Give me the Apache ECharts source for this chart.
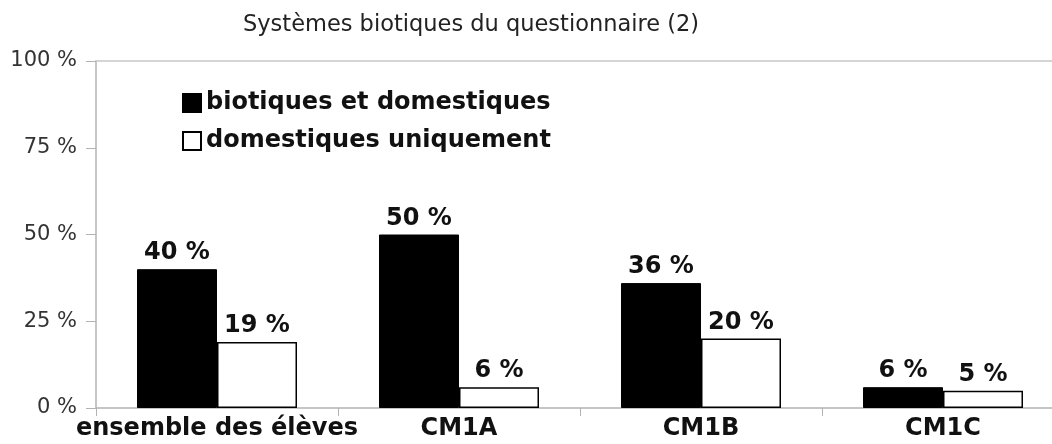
<!DOCTYPE html>
<html>
<head>
<meta charset="utf-8">
<script src="https://cdn.jsdelivr.net/npm/echarts@6/dist/echarts.min.js"></script>
<style>
  html, body { margin: 0; padding: 0; background: #fff; }
  #main { width: 1052px; height: 444px; }
</style>
</head>
<body>
<div id="main"></div>
<script>
// données du graphique
var categories = ['ensemble des élèves', 'CM1A', 'CM1B', 'CM1C']
var biotiquesDomestiques = [40, 50, 36, 6]
var domestiquesUniquement = [19, 6, 20, 5]
var yTicks = [0, 25, 50, 75, 100]

var myChart = echarts.init(document.getElementById('main'))

var boldFont = {
  fontFamily: 'DejaVu Sans',
  fontWeight: 'bold',
  fontSize: 24,
  color: '#111'
}

var option = {
  animation: false,
  title: {
    text: 'Systèmes biotiques du questionnaire (2)',
    left: 238,
    top: 9,
    textStyle: {
      fontFamily: 'DejaVu Sans',
      fontWeight: 'normal',
      fontSize: 22.5,
      color: '#222'
    }
  },
  legend: {
    orient: 'vertical',
    left: 182,
    top: 91,
    padding: 0,
    itemWidth: 18,
    itemHeight: 18,
    itemGap: 14,
    icon: 'rect',
    textStyle: boldFont,
    data: ['biotiques et domestiques', 'domestiques uniquement']
  },
  grid: {
    left: 96,
    width: 968,
    top: 61,
    bottom: 36,
    outerBoundsMode: 'none'
  },
  xAxis: [
    {
      type: 'category',
      data: categories,
      axisLine: { lineStyle: { color: '#b3b3b3', width: 1.5 } },
      axisTick: { show: true, length: 8, lineStyle: { color: '#b3b3b3' } },
      axisLabel: Object.assign({ margin: 9, interval: 0 }, boldFont)
    },
    {
      type: 'category',
      position: 'top',
      data: categories,
      axisLine: { lineStyle: { color: '#c8c8c8', width: 1.5 } },
      axisTick: { show: false },
      axisLabel: { show: false }
    }
  ],
  yAxis: {
    type: 'value',
    min: yTicks[0],
    max: yTicks[yTicks.length - 1],
    interval: 25,
    axisLine: { show: true, lineStyle: { color: '#b3b3b3', width: 1.5 } },
    axisTick: { show: true, length: 10, lineStyle: { color: '#b3b3b3' } },
    splitLine: { show: false },
    axisLabel: {
      margin: 19,
      formatter: '{value} %',
      fontFamily: 'DejaVu Sans',
      fontSize: 21,
      color: '#333'
    }
  },
  series: [
    {
      name: 'biotiques et domestiques',
      type: 'bar',
      barWidth: 80,
      barGap: '0%',
      itemStyle: { color: '#000', borderColor: '#000', borderWidth: 1 },
      label: Object.assign({ show: true, position: 'top', distance: 4, formatter: '{c} %' }, boldFont),
      data: biotiquesDomestiques
    },
    {
      name: 'domestiques uniquement',
      type: 'bar',
      barWidth: 80,
      barGap: '0%',
      itemStyle: { color: '#fff', borderColor: '#000', borderWidth: 1.5 },
      label: Object.assign({ show: true, position: 'top', distance: 4, formatter: '{c} %' }, boldFont),
      data: domestiquesUniquement
    }
  ]
}

myChart.setOption(option)
</script>
</body>
</html>
